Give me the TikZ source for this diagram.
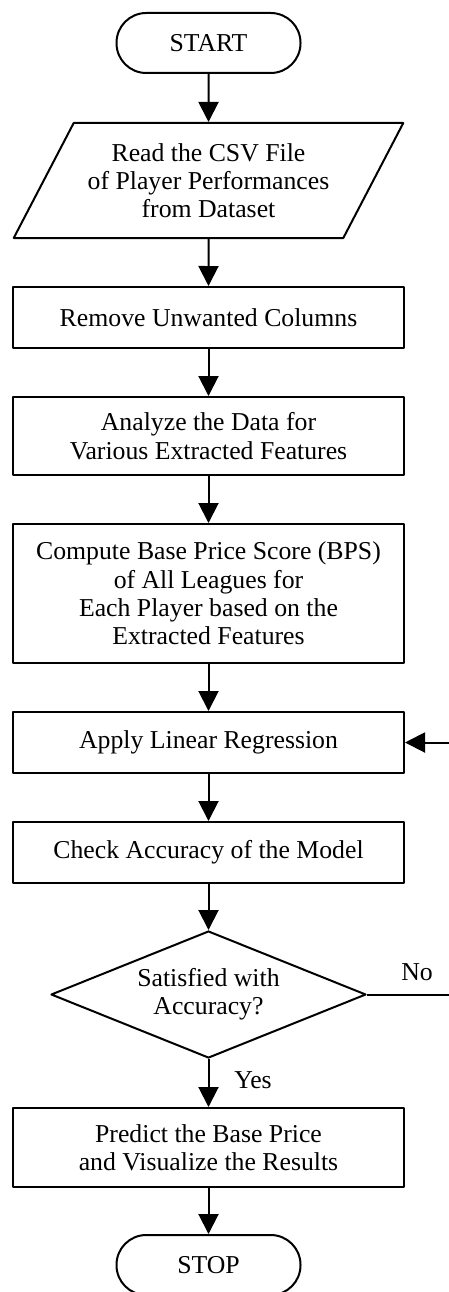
\documentclass[tikz,border=0pt]{standalone}
\usepackage{fontspec}
\setmainfont{Liberation Serif}
\usetikzlibrary{arrows.meta,shapes.geometric}
\tikzset{
	box/.style={draw, line width=0.8pt, align=center, inner sep=2pt},
	term/.style={box, rounded corners=11.9pt, minimum width=73.6pt, minimum height=24pt},
	io/.style={box, trapezium, trapezium left angle=56.5, trapezium right angle=123.5,
		trapezium stretches=true, minimum width=156pt, minimum height=46pt},
	proc/.style={box, minimum width=156.4pt},
	decision/.style={box, diamond, inner sep=0pt, aspect=2.48, minimum width=126pt, minimum height=50.8pt},
	flow/.style={-{Triangle[width=8pt,length=8pt]}, line width=0.8pt}
}
\begin{document}
\begin{tikzpicture}[x=0.4pt, y=-0.4pt, font=\fontsize{10.3}{11.3}\selectfont, line join=round]
	\useasboundingbox (0,0) rectangle (448,1292);
	\node[term] (start) at (208.5,43) {START};
	\node[io] (read) at (208.5,180.5) {Read the CSV File\\of Player Performances\\from Dataset};
	\node[proc, minimum height=24.4pt] (remove) at (208.5,317.5) {Remove Unwanted Columns};
	\node[proc, minimum height=31.2pt] (analyze) at (208.5,436) {Analyze the Data for\\Various Extracted Features};
	\node[proc, minimum height=55.6pt] (compute) at (208.5,593.5) {Compute Base Price Score (BPS)\\of All Leagues for\\Each Player based on the\\Extracted Features};
	\node[proc, minimum height=24.4pt] (apply) at (208.5,742.5) {Apply Linear Regression};
	\node[proc, minimum height=24.4pt] (check) at (208.5,852.5) {Check Accuracy of the Model};
	\node[decision] (decide) at (208.5,994.5) {Satisfied with\\Accuracy?};
	\node[proc, minimum height=31.6pt] (predict) at (208.5,1147.5) {Predict the Base Price\\and Visualize the Results};
	\node[term] (stop) at (208.5,1265) {STOP};
	\coordinate (loop) at (458,0);
	% main flow
	\foreach \a/\b in {start/read, read/remove, remove/analyze, analyze/compute, compute/apply, apply/check, check/decide, decide/predict, predict/stop}
		{\draw[flow] (\a.south) -- (\b.north);}
	% back to regression
	\draw[flow] (decide.east) -- (loop|-decide.east) |- (apply.east);
	\node (no) at (417,972) {No};
	\node (yes) at (253,1080) {Yes};
\end{tikzpicture}
\end{document}
